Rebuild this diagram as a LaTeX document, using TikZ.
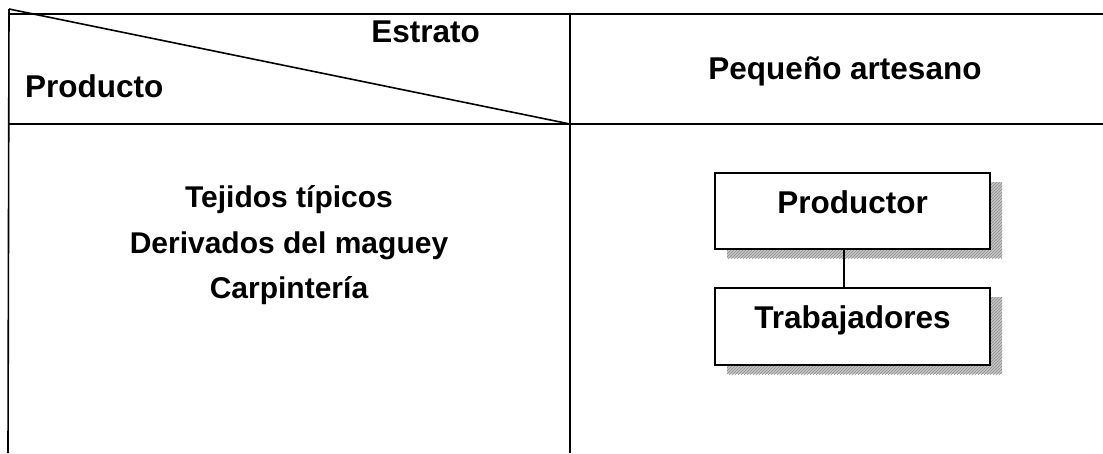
\documentclass[tikz,border=0pt]{standalone}
\usepackage{fontspec}
\setmainfont{Liberation Sans}
\usetikzlibrary{patterns}
\tikzset{
  rule/.style={line width=1.6pt, black},
  hd/.style={font=\fontsize{31.5}{36}\selectfont\bfseries, inner sep=0pt, anchor=base},
  lst/.style={font=\fontsize{30}{34}\selectfont\bfseries, inner sep=0pt, anchor=base},
  boxnode/.style={draw, line width=2pt, minimum width=275pt, inner xsep=0pt, inner ysep=0pt,
    text height=40pt, text depth=36pt, font=\fontsize{31.5}{36}\selectfont\bfseries, fill=white},
  shadowbox/.style={fill=gray!45, postaction={pattern=north east lines, pattern color=gray!90}},
  link/.style={line width=2pt}
}
\begin{document}
\begin{tikzpicture}[x=1pt,y=-1pt]
\useasboundingbox (0,0) rectangle (1103,453);
% table grid
\coordinate (tl) at (8,14);
\coordinate (tr) at (1103,14);
\coordinate (ml) at (8,124);
\coordinate (mr) at (1103,124);
\coordinate (mc) at (570,124);
\coordinate (tc) at (570,14);
\coordinate (bl) at (8,453);
\coordinate (bc) at (570,453);
\coordinate (dg) at (9,9);
\draw[rule] (tl) -- (tr);
\draw[rule] (ml) -- (mr);
\draw[rule] (dg) -- (bl);
\draw[rule] (tc) -- (bc);
\draw[rule] (dg) -- (mc);
% header texts
\node[hd, anchor=base east] (estrato) at (480,42) {Estrato};
\node[hd, anchor=base west] (producto) at (25,97) {Producto};
\node[hd] (pequeno) at (845,79) {Pequeño artesano};
% product list
\node[lst] (tej) at (289,207) {Tejidos típicos};
\node[lst] (der) at (289,253) {Derivados del maguey};
\node[lst] (car) at (289,298) {Carpintería};
% shadows
\path[shadowbox] (727,182) rectangle (1002,258);
\path[shadowbox] (727,297) rectangle (1002,374);
% boxes
\node[boxnode, anchor=north west] (prod) at (714,172) {Productor};
\node[boxnode, anchor=north west, text depth=37pt] (trab) at (714,287) {Trabajadores};
\draw[link] ([xshift=-8.5pt]prod.south) -- ([xshift=-8.5pt]trab.north);
\end{tikzpicture}
\end{document}
